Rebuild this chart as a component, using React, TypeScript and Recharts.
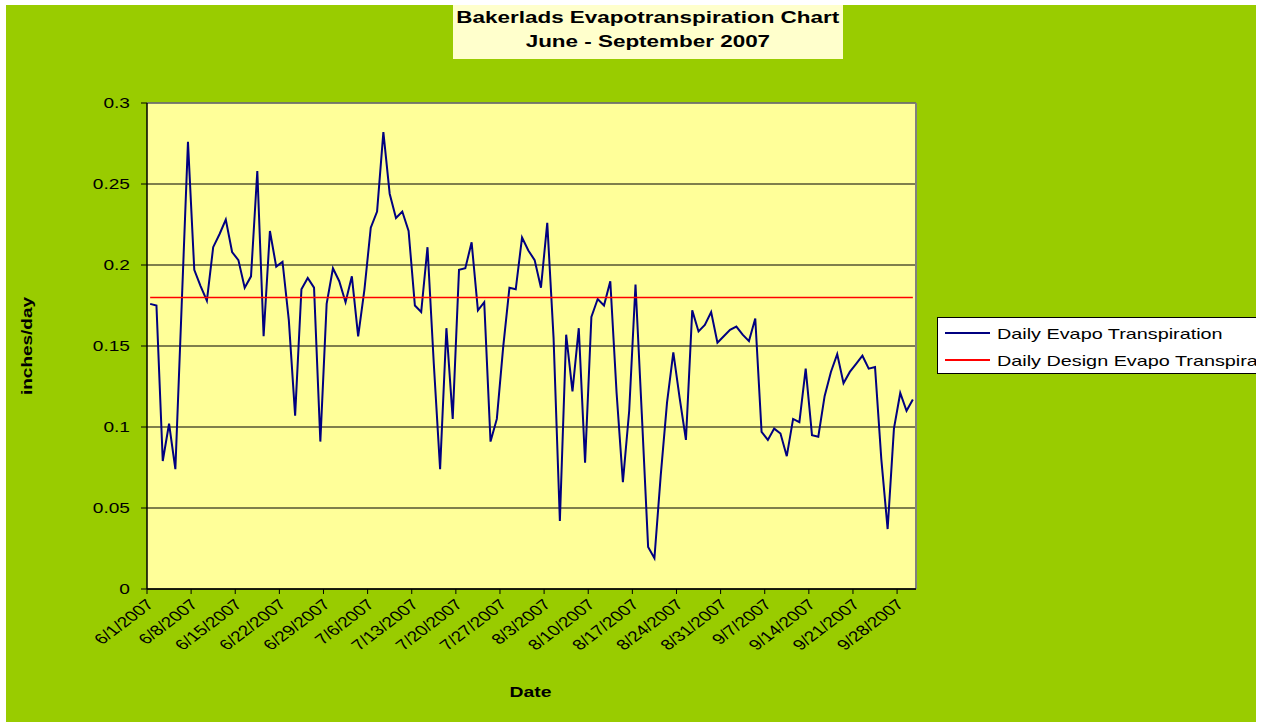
import React from 'react';
import { LineChart, Line, XAxis, YAxis, CartesianGrid, ReferenceLine, Legend } from 'recharts';

// daily ET values, 6/1/2007 .. 9/30/2007 (one per day)
const dailyEt = [
  0.176, 0.175, 0.079, 0.102, 0.074, 0.175, 0.276, 0.197, 0.187, 0.178,
  0.211, 0.219, 0.228, 0.208, 0.203, 0.186, 0.193, 0.258, 0.156, 0.221,
  0.199, 0.202, 0.166, 0.107, 0.185, 0.192, 0.186, 0.091, 0.176, 0.198,
  0.190, 0.177, 0.193, 0.156, 0.185, 0.223, 0.233, 0.282, 0.244, 0.229,
  0.233, 0.221, 0.175, 0.171, 0.211, 0.139, 0.074, 0.161, 0.105, 0.197,
  0.198, 0.214, 0.172, 0.177, 0.091, 0.105, 0.149, 0.186, 0.185, 0.217,
  0.209, 0.203, 0.186, 0.226, 0.155, 0.042, 0.157, 0.122, 0.161, 0.078,
  0.168, 0.179, 0.175, 0.190, 0.121, 0.066, 0.110, 0.188, 0.108, 0.026,
  0.019, 0.070, 0.115, 0.146, 0.118, 0.092, 0.172, 0.159, 0.163, 0.171,
  0.152, 0.156, 0.160, 0.162, 0.157, 0.153, 0.167, 0.097, 0.092, 0.099,
  0.096, 0.082, 0.105, 0.103, 0.136, 0.095, 0.094, 0.119, 0.134, 0.145,
  0.127, 0.134, 0.139, 0.144, 0.136, 0.137, 0.080, 0.037, 0.099, 0.121,
  0.110, 0.117,
];

const designEt = 0.18;

const dateTicks = [
  '6/1/2007', '6/8/2007', '6/15/2007', '6/22/2007', '6/29/2007', '7/6/2007',
  '7/13/2007', '7/20/2007', '7/27/2007', '8/3/2007', '8/10/2007', '8/17/2007',
  '8/24/2007', '8/31/2007', '9/7/2007', '9/14/2007', '9/21/2007', '9/28/2007',
];

const yTicks = [0, 0.05, 0.1, 0.15, 0.2, 0.25, 0.3];

const dayCount = dailyEt.length;
const tickDays = dateTicks.map((_, i) => i * 7);

const data = dailyEt.map((v, i) => ({ day: i + 0.5, et: v, design: designEt }));

const seriesOrder = ['et', 'design'];

const FONT = "'Liberation Sans', Arial, sans-serif";
const STRETCH = 1.32;

const YTick = ({ x, y, payload }: any) => (
  <g transform={`translate(${x - 9},${y}) scale(${STRETCH},1)`}>
    <text textAnchor="end" dy="0.36em" fontSize={14.5} fontFamily={FONT} fill="#000">
      {payload.value}
    </text>
  </g>
);

const XTick = ({ x, y, payload }: any) => (
  <g transform={`translate(${x - 2},${y + 2}) scale(${STRETCH},1) rotate(-45)`}>
    <text textAnchor="end" dy="0.72em" fontSize={14.5} fontFamily={FONT} fill="#000">
      {dateTicks[tickDays.indexOf(payload.value)]}
    </text>
  </g>
);

const YTitle = ({ viewBox }: any) => {
  const cx = viewBox.x + 21;
  const cy = viewBox.y + viewBox.height / 2;
  return (
    <text x={cx} y={cy} transform={`rotate(-90,${cx},${cy})`} textAnchor="middle" dy="0.35em"
      fontSize={15} fontWeight="bold" fontFamily={FONT} textLength={98} lengthAdjust="spacingAndGlyphs">
      inches/day
    </text>
  );
};

const XTitle = ({ viewBox }: any) => (
  <text x={viewBox.x + viewBox.width / 2 - 1} y={viewBox.y + 108} textAnchor="middle"
    fontSize={15} fontWeight="bold" fontFamily={FONT} textLength={42} lengthAdjust="spacingAndGlyphs">
    Date
  </text>
);

const LegendBox = ({ payload }: any) => {
  const items = [...(payload || [])].sort(
    (a: any, b: any) => seriesOrder.indexOf(a.dataKey) - seriesOrder.indexOf(b.dataKey)
  );
  return (
    <div style={{
      width: 340, height: 57, border: '1.5px solid #000', background: '#fff',
      boxSizing: 'border-box', position: 'relative', fontFamily: FONT, fontSize: 15,
    }}>
      {items.map((entry: any, i: number) => (
        <div key={entry.value} style={{
          position: 'absolute', left: 7, top: 3 + i * 27, height: 24,
          display: 'flex', alignItems: 'center', whiteSpace: 'nowrap',
        }}>
          <div style={{ width: 45, height: entry.dataKey === 'et' ? 2 : 1.5, background: entry.color }} />
          <span style={{
            marginLeft: 7, display: 'inline-block', color: '#000',
            transform: `scaleX(${STRETCH})`, transformOrigin: 'left center',
          }}>{entry.value}</span>
        </div>
      ))}
    </div>
  );
};

export default function App() {
  return (
    <div style={{ position: 'absolute', left: 0, top: 0, width: 1261, height: 728, background: '#fff' }}>
      <div style={{
        position: 'absolute', left: 6, top: 5, width: 1250, height: 717,
        background: '#99CC00', overflow: 'hidden',
      }}>
        <LineChart width={1250} height={717} data={data}
          margin={{ top: 98, right: 340, bottom: 0, left: 0 }}>
          <CartesianGrid vertical={false} stroke="#000" strokeWidth={1.2} fill="#FFFF99" fillOpacity={1} />
          <XAxis dataKey="day" type="number" domain={[0, dayCount]} ticks={tickDays}
            interval={0} height={133} tickSize={5} stroke="#000" strokeWidth={1.5}
            tickLine={{ stroke: '#000', strokeWidth: 1 }} tick={<XTick />} label={<XTitle />} />
          <YAxis domain={[0, 0.3]} ticks={yTicks} width={141} tickSize={6} interval={0}
            stroke="#000" strokeWidth={1.5} tickLine={{ stroke: '#000', strokeWidth: 1 }}
            tick={<YTick />} label={<YTitle />} />
          <ReferenceLine y={0.3} stroke="#808080" strokeWidth={1.5} />
          <ReferenceLine x={dayCount} stroke="#808080" strokeWidth={2} />
          <Legend layout="vertical" align="center" verticalAlign="middle"
            wrapperStyle={{ left: 931, top: 312, width: 340, height: 57 }}
            content={<LegendBox />} />
          <Line type="linear" dataKey="et" name="Daily Evapo Transpiration" stroke="#000080"
            strokeWidth={2} dot={false} activeDot={false} isAnimationActive={false} />
          <Line type="linear" dataKey="design" name="Daily Design Evapo Transpiration" stroke="#FF0000"
            strokeWidth={1.5} dot={false} activeDot={false} isAnimationActive={false} />
        </LineChart>
        <div style={{
          position: 'absolute', left: 447, top: 0, width: 390, height: 54,
          background: '#FFFFCC', textAlign: 'center', fontFamily: FONT,
          fontWeight: 'bold', fontSize: 16.5, color: '#000',
        }}>
          {['Bakerlads Evapotranspiration Chart', 'June - September 2007'].map((t) => (
            <div key={t} style={{ height: 24, lineHeight: '24px' }}>
              <span style={{ display: 'inline-block', transform: 'scaleX(1.36)' }}>{t}</span>
            </div>
          ))}
        </div>
      </div>
    </div>
  );
}
